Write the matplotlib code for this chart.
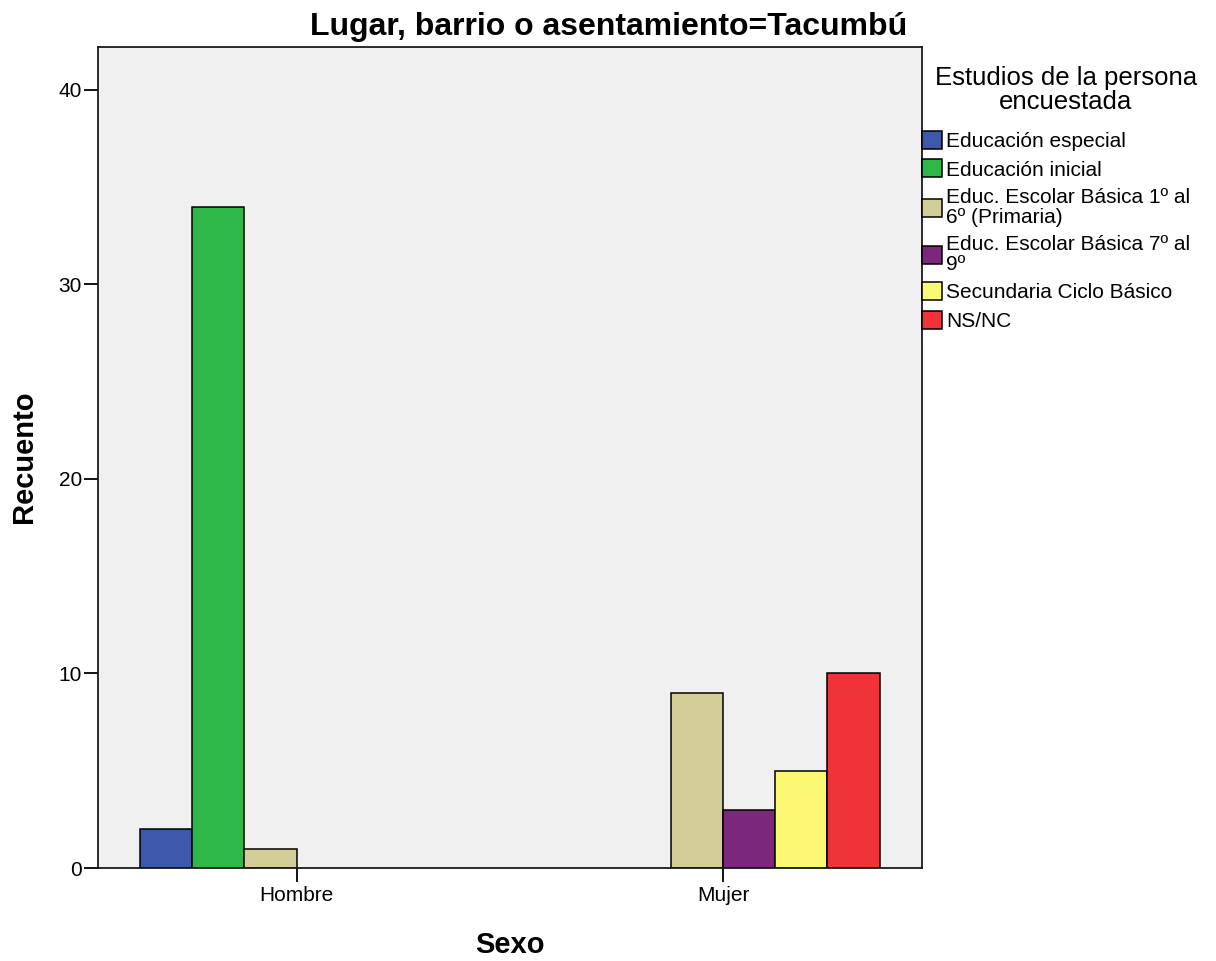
import numpy as np
import matplotlib.pyplot as plt

plt.rcParams['font.family'] = ['Liberation Sans', 'DejaVu Sans']

# datos
sexo = ['Hombre', 'Mujer']
estudios = ['Educación especial', 'Educación inicial',
            'Educ. Escolar Básica 1º al\n6º (Primaria)',
            'Educ. Escolar Básica 7º al\n9º',
            'Secundaria Ciclo Básico', 'NS/NC']
recuento = {
    'Educación especial': [2, 0],
    'Educación inicial': [34, 0],
    'Educ. Escolar Básica 1º al\n6º (Primaria)': [1, 9],
    'Educ. Escolar Básica 7º al\n9º': [0, 3],
    'Secundaria Ciclo Básico': [0, 5],
    'NS/NC': [0, 10],
}
colores = ['#3E58AC', '#2EB848', '#D3CE97', '#7B277C', '#FBF873', '#EF3338']

fig = plt.figure(figsize=(12.16, 9.61), dpi=100)
ax = fig.add_axes([98 / 1216, 1 - 868 / 961, (922.5 - 98) / 1216, (868 - 47) / 961])
ax.set_facecolor('#F0F0F0')

x = np.arange(len(sexo))
w = 0.1225
for i, (nombre, col) in enumerate(zip(estudios, colores)):
    vals = np.array(recuento[nombre])
    pos = x + (i - 2.5) * w
    m = vals > 0  # las categorias vacias no se dibujan
    ax.bar(pos[m], vals[m], width=w, color=col, edgecolor='black',
           linewidth=1.1, label=nombre, zorder=2)

ax.set_xlim(-0.466, 1.468)
ax.set_ylim(0, 42.2)
ax.set_yticks([0, 10, 20, 30, 40])
ax.set_xticks(x)
ax.set_xticklabels(sexo)
ax.tick_params(axis='both', direction='out', length=10, width=1.3,
               labelsize=15, colors='black')
ax.tick_params(axis='y', pad=1.5)
ax.tick_params(axis='x', pad=3)
for s in ax.spines.values():
    s.set_linewidth(1.3)
    s.set_color('#1a1a1a')

fig.text(609 / 1216, 1 - 35 / 961, 'Lugar, barrio o asentamiento=Tacumbú',
         ha='center', va='baseline', fontsize=23, fontweight='bold')
fig.text(24 / 1216, 1 - 457 / 961, 'Recuento', rotation=90, ha='center',
         va='center', fontsize=21, fontweight='bold')
fig.text(510 / 1216, 1 - 953 / 961, 'Sexo', ha='center', va='baseline',
         fontsize=21, fontweight='bold')

# titulo de la leyenda aparte para controlar el espacio
fig.text(1066 / 1216, 1 - 66 / 961, 'Estudios de la persona\nencuestada',
         ha='center', va='top', multialignment='center', fontsize=18.5,
         linespacing=1.0)

leg = fig.legend(loc='upper left', bbox_to_anchor=(922 / 1216, 1 - 131 / 961),
                 frameon=False, fontsize=15, handlelength=0.95, handleheight=0.95,
                 handletextpad=0.2, labelspacing=0.4, borderpad=0, borderaxespad=0)
for t in leg.get_texts():
    t.set_linespacing(1.05)

fig.savefig('out.png', dpi=100)
